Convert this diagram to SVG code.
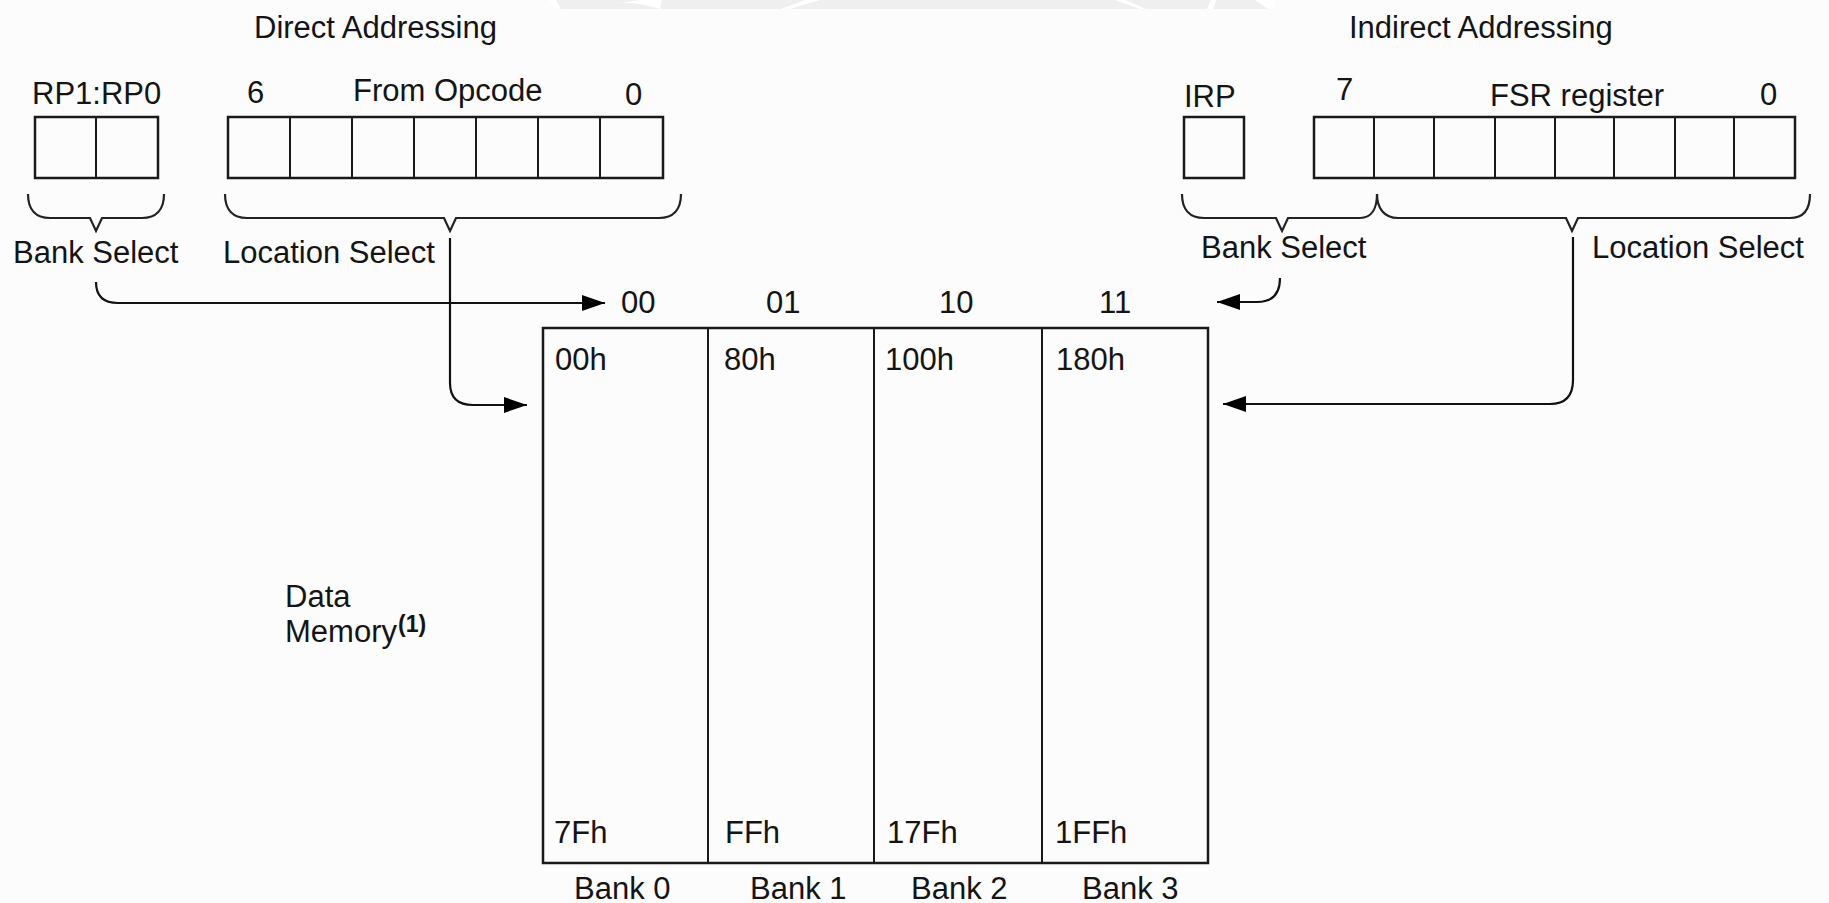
<svg xmlns="http://www.w3.org/2000/svg" width="1829" height="903" viewBox="0 0 1829 903">
  <style>
    text { font-family: "Liberation Sans", Arial, sans-serif; font-size: 31px; fill: #141414; }
    .box { fill: none; stroke: #1a1a1a; stroke-width: 2.5; }
    .div { stroke: #1a1a1a; stroke-width: 2; }
    .brace { fill: none; stroke: #222; stroke-width: 2.2; stroke-linejoin: miter; }
    .conn { fill: none; stroke: #111; stroke-width: 2.2; }
  </style>
  <defs>
    <marker id="arrow" markerUnits="userSpaceOnUse" viewBox="0 0 23 16" refX="23" refY="8" markerWidth="23" markerHeight="16" orient="auto">
      <path d="M0,0 L23,8 L0,16 Z" fill="#000"/>
    </marker>
  </defs>

  <rect x="0" y="0" width="1829" height="903" fill="#fbfcfb"/>
  <g id="watermark">
    <rect x="555" y="0" width="720" height="9" fill="#efefef"/>
    <path d="M549,0 L556,9 L561,9 L556,0 Z M612,4 Q630,0 660,9 L662,0 L640,0 Z M781,9 L805,0 L820,0 L790,9 Z M1115,0 L1140,9 L1146,9 L1125,0 Z M1207,9 L1211,0 L1216,0 L1213,9 Z M1255,0 L1268,9 L1275,9 L1275,0 Z" fill="#ffffff"/>
  </g>

  <g id="direct-title"><text x="254" y="38">Direct Addressing</text></g>

  <g id="rp-register">
    <text x="32" y="104">RP1:RP0</text>
    <rect class="box" x="35" y="117" width="123" height="61"/>
    <line class="div" x1="96" y1="117" x2="96" y2="178"/>
  </g>

  <g id="opcode-register">
    <text x="247" y="103">6</text>
    <text x="353" y="101">From Opcode</text>
    <text x="625" y="105">0</text>
    <rect class="box" x="228" y="117" width="435" height="61"/>
    <line class="div" x1="290" y1="117" x2="290" y2="178"/>
    <line class="div" x1="352" y1="117" x2="352" y2="178"/>
    <line class="div" x1="414" y1="117" x2="414" y2="178"/>
    <line class="div" x1="476" y1="117" x2="476" y2="178"/>
    <line class="div" x1="538" y1="117" x2="538" y2="178"/>
    <line class="div" x1="600" y1="117" x2="600" y2="178"/>
  </g>

  <g id="direct-bank-select">
    <path class="brace" d="M28,194 C28,210 36,218 50,218 L90,218 L96,231 L102,218 L142,218 C156,218 164,210 164,194"/>
    <text x="13" y="263">Bank Select</text>
  </g>

  <g id="direct-location-select">
    <path class="brace" d="M225,194 C225,210 233,218 247,218 L444,218 L450,231 L456,218 L659,218 C673,218 681,210 681,194"/>
    <text x="223" y="263">Location Select</text>
  </g>

  <g id="indirect-title"><text x="1349" y="38">Indirect Addressing</text></g>

  <g id="irp-register">
    <text x="1184" y="107">IRP</text>
    <rect class="box" x="1184" y="117" width="60" height="61"/>
  </g>

  <g id="fsr-register">
    <text x="1336" y="100">7</text>
    <text x="1490" y="106">FSR register</text>
    <text x="1760" y="105">0</text>
    <rect class="box" x="1314" y="117" width="481" height="61"/>
    <line class="div" x1="1374" y1="117" x2="1374" y2="178"/>
    <line class="div" x1="1434" y1="117" x2="1434" y2="178"/>
    <line class="div" x1="1495" y1="117" x2="1495" y2="178"/>
    <line class="div" x1="1555" y1="117" x2="1555" y2="178"/>
    <line class="div" x1="1614" y1="117" x2="1614" y2="178"/>
    <line class="div" x1="1675" y1="117" x2="1675" y2="178"/>
    <line class="div" x1="1734" y1="117" x2="1734" y2="178"/>
  </g>

  <g id="indirect-bank-select">
    <path class="brace" d="M1182,194 C1182,210 1190,218 1204,218 L1276,218 L1282,231 L1288,218 L1360,218 C1372,218 1377,208 1377,194"/>
    <text x="1201" y="258">Bank Select</text>
  </g>

  <g id="indirect-location-select">
    <path class="brace" d="M1377,194 C1377,208 1384,218 1398,218 L1566,218 L1572,231 L1578,218 L1790,218 C1803,218 1810,210 1810,194"/>
    <text x="1592" y="258">Location Select</text>
  </g>

  <g id="data-memory">
    <text x="285" y="607">Data</text>
    <text x="285" y="642">Memory</text>
    <text x="398" y="632" style="font-size:23px;font-weight:bold">(1)</text>
  </g>

  <g id="memory-banks">
    <rect class="box" x="543" y="328" width="665" height="535"/>
    <line class="div" x1="708" y1="328" x2="708" y2="863"/>
    <line class="div" x1="874" y1="328" x2="874" y2="863"/>
    <line class="div" x1="1042" y1="328" x2="1042" y2="863"/>
  </g>

  <g id="bank0">
    <text x="621" y="313">00</text>
    <text x="555" y="370">00h</text>
    <text x="554" y="843">7Fh</text>
    <text x="574" y="899">Bank 0</text>
  </g>
  <g id="bank1">
    <text x="766" y="313">01</text>
    <text x="724" y="370">80h</text>
    <text x="725" y="843">FFh</text>
    <text x="750" y="899">Bank 1</text>
  </g>
  <g id="bank2">
    <text x="939" y="313">10</text>
    <text x="885" y="370">100h</text>
    <text x="887" y="843">17Fh</text>
    <text x="911" y="899">Bank 2</text>
  </g>
  <g id="bank3">
    <text x="1099" y="313">11</text>
    <text x="1056" y="370">180h</text>
    <text x="1055" y="843">1FFh</text>
    <text x="1082" y="899">Bank 3</text>
  </g>

  <g id="connectors">
    <path class="conn" marker-end="url(#arrow)" d="M96,282 Q96,303 118,303 L605,303"/>
    <path class="conn" marker-end="url(#arrow)" d="M450,238 L450,383 Q450,405 473,405 L527,405"/>
    <path class="conn" marker-end="url(#arrow)" d="M1280,278 Q1280,302 1257,302 L1217,302"/>
    <path class="conn" marker-end="url(#arrow)" d="M1573,237 L1573,380 Q1573,404 1550,404 L1223,404"/>
  </g>
</svg>
